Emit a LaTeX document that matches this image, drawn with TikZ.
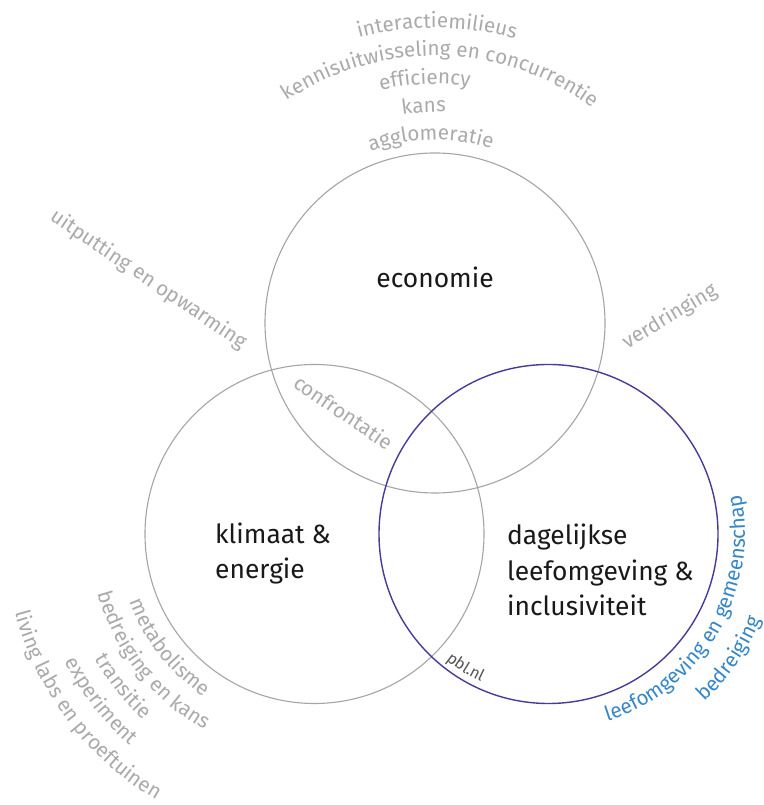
\documentclass[tikz,border=0pt]{standalone}
\usepackage{fontspec}
\setmainfont{Fira Sans}
\usetikzlibrary{decorations.text}
\definecolor{circgray}{RGB}{165,165,165}
\definecolor{txtgray}{RGB}{170,170,170}
\definecolor{navyline}{RGB}{70,60,150}
\definecolor{lblue}{RGB}{55,135,200}
\definecolor{darktxt}{RGB}{25,25,25}
\definecolor{pblgray}{RGB}{85,85,85}
\newcommand\gtxt{\fontsize{20.6}{24}\selectfont}
\newcommand\mtxt{\fontsize{26.4}{35.5}\selectfont}
% text on an arc, letters pointing away from the centre
\newcommand\arcoutside[6]{%
  \path[decorate,decoration={text along path,text align=center,text={|#5|#6}}]
    (#1) ++(#3+#4:#2) arc[start angle=#3+#4, end angle=#3-#4, radius=#2];}
% text on an arc, letters pointing towards the centre
\newcommand\arcinside[6]{%
  \path[decorate,decoration={text along path,text align=center,text={|#5|#6}}]
    (#1) ++(#3-#4:#2) arc[start angle=#3-#4, end angle=#3+#4, radius=#2];}
\tikzset{
  venn/.style={draw=circgray, line width=1.1pt},
  vennblue/.style={draw=navyline, line width=1.4pt},
  mainlabel/.style={font=\mtxt, text=darktxt, inner sep=0pt},
  graylabel/.style={font=\gtxt, text=txtgray, inner sep=0pt},
}
\begin{document}
\begin{tikzpicture}[x=1pt,y=1pt]
\fill[white] (0,0) rectangle (763,805);
\useasboundingbox (0,0) rectangle (763,805);
\coordinate (E) at (435,482);
\coordinate (K) at (314.5,271);
\coordinate (D) at (548.5,271);
% circles
\draw[venn] (E) circle[radius=170];
\draw[venn] (K) circle[radius=169.5];
\draw[vennblue] (D) circle[radius=169.5];
% main labels
\node[mainlabel, anchor=base] (econ) at (435,517) {economie};
\node[mainlabel, anchor=base west] (klim) at (215,261.7)
  {\begin{tabular}[t]{@{}l@{}}klimaat \&\\ energie\end{tabular}};
\node[mainlabel, anchor=base west] (dag) at (507,260)
  {\begin{tabular}[t]{@{}l@{}}dagelijkse\\ leefomgeving \&\\ inclusiviteit\end{tabular}};
% economy group
\arcoutside{E}{295}{89.6}{70}{\gtxt\color{txtgray}}{interactiemilieus}
\arcoutside{E}{267}{88.7}{70}{\gtxt\color{txtgray}}{kennisuitwisseling en concurrentie}
\arcoutside{E}{239}{92.4}{70}{\gtxt\color{txtgray}}{efficiency}
\arcoutside{E}{211}{93}{70}{\gtxt\color{txtgray}}{kans}
\arcoutside{E}{183}{91.3}{70}{\gtxt\color{txtgray}}{agglomeratie}
% climate group
\arcinside{K}{196.5}{218}{60}{\gtxt\color{txtgray}}{metabolisme}
\arcinside{K}{224.5}{218}{60}{\gtxt\color{txtgray}}{bedreiging en kans}
\arcinside{K}{252.5}{218.5}{60}{\gtxt\color{txtgray}}{transitie}
\arcinside{K}{280.5}{218}{60}{\gtxt\color{txtgray}}{experiment}
\arcinside{K}{309.5}{217}{60}{\gtxt\color{txtgray}}{living labs en proeftuinen}
% daily environment group
\arcinside{D}{196.5}{329.6}{70}{\gtxt\color{lblue}}{leefomgeving en gemeenschap}
\arcinside{D}{229}{325.4}{50}{\gtxt\color{lblue}}{bedreiging}
\arcinside{D}{162.5}{238.2}{30}{\fontsize{16}{19}\selectfont\color{pblgray}}{pbl.nl}
% straight gray labels
\node[graylabel, rotate=-34.5, anchor=base] (conf) at (339.4,386.4) {confrontatie};
\node[graylabel, rotate=-34, anchor=base] (uitp) at (145.4,520.4) {uitputting en opwarming};
\node[graylabel, rotate=31, anchor=base] (verd) at (672.8,483.3) {verdringing};
\end{tikzpicture}
\end{document}
